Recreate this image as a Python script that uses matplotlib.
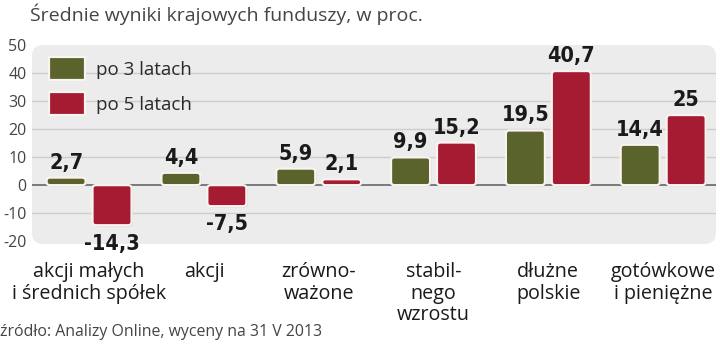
import matplotlib
matplotlib.use('Agg')
import matplotlib.pyplot as plt
import matplotlib.patheffects as pe
from matplotlib.patches import FancyBboxPatch
import numpy as np

categories = ['akcji małych\ni średnich spółek', 'akcji', 'zrówno-\nważone',
              'stabil-\nnego\nwzrostu', 'dłużne\npolskie', 'gotówkowe\ni pieniężne']
po_3_latach = [2.7, 4.4, 5.9, 9.9, 19.5, 14.4]
po_5_latach = [-14.3, -7.5, 2.1, 15.2, 40.7, 25.0]
labels_3 = ['2,7', '4,4', '5,9', '9,9', '19,5', '14,4']
labels_5 = ['-14,3', '-7,5', '2,1', '15,2', '40,7', '25']
yticks = [-20, -10, 0, 10, 20, 30, 40, 50]

GREEN = '#5b632d'
RED = '#a51c32'
PANEL = '#ececec'
NUM_FONT = ['Liberation Sans Narrow', 'DejaVu Sans']
TXT_FONT = ['Open Sans', 'DejaVu Sans']

fig = plt.figure(figsize=(7.2, 3.45), dpi=100)
ax = fig.add_axes([32 / 720, 1 - 244 / 345, 684 / 720, 199 / 345])
ax.set_xlim(-0.497, 5.46)
ax.set_ylim(-21, 50)
ax.patch.set_visible(False)
for s in ax.spines.values():
    s.set_visible(False)

# rounded grey panel behind the bars
w_px, h_px = 684, 199
panel = FancyBboxPatch((0, 0), 1, 1, transform=ax.transAxes,
                       boxstyle='round,pad=0,rounding_size=%f' % (11 / w_px),
                       mutation_aspect=w_px / h_px, fc=PANEL, ec='none',
                       zorder=0)
ax.add_patch(panel)

for t in [40, 30, 20, 10, -10]:
    ax.axhline(t, color='#cdcdcd', lw=1.0, zorder=1)
ax.axhline(0, color='#5a5a5a', lw=1.1, zorder=1)

x = np.arange(len(categories))
bw = 0.34
off = 0.2
b3 = ax.bar(x - off, po_3_latach, bw, color=GREEN, label='po 3 latach')
b5 = ax.bar(x + off, po_5_latach, bw, color=RED, label='po 5 latach')

# swap plain rectangles for rounded ones with a white rim
xpx = w_px / (ax.get_xlim()[1] - ax.get_xlim()[0])
ypx = h_px / (ax.get_ylim()[1] - ax.get_ylim()[0])
aspect = xpx / ypx
shadow = [pe.SimplePatchShadow(offset=(0.8, -0.8), shadow_rgbFace='#888888',
                               alpha=0.45), pe.Normal()]
for bars in (b3, b5):
    for r in bars:
        r.set_visible(False)
        x0, y0 = r.get_x(), min(r.get_y(), r.get_y() + r.get_height())
        w, h = r.get_width(), abs(r.get_height())
        rad = min(3.5 / xpx, w / 2, h / aspect / 2)
        fb = FancyBboxPatch((x0, y0), w, h,
                            boxstyle='round,pad=0,rounding_size=%f' % rad,
                            mutation_aspect=aspect, fc=r.get_facecolor(),
                            ec='#fbf3f0', lw=1.6, zorder=3, path_effects=shadow)
        ax.add_patch(fb)

for xs, vals, labs in ((x - off, po_3_latach, labels_3), (x + off, po_5_latach, labels_5)):
    for xi, v, lab in zip(xs, vals, labs):
        if v >= 0:
            ax.annotate(lab, (xi, v), xytext=(0, 6.5), textcoords='offset points',
                        ha='center', va='baseline', fontsize=15.5, fontweight='bold',
                        family=NUM_FONT, fontstretch='condensed',
                        color='#1a1a1a', zorder=5)
        else:
            ax.annotate(lab, (xi, v), xytext=(0, -6), textcoords='offset points',
                        ha='center', va='top', fontsize=15.5, fontweight='bold',
                        family=NUM_FONT, fontstretch='condensed',
                        color='#1a1a1a', zorder=5)

ax.set_yticks(yticks)
ax.set_yticklabels([str(t) for t in yticks], fontsize=11.5, color='#444444',
                   family=TXT_FONT)
ax.set_xticks(x)
ax.set_xticklabels(categories, fontsize=14.2, color='#1a1a1a', family=TXT_FONT,
                   linespacing=1.1)
ax.tick_params(axis='both', length=0)
ax.tick_params(axis='y', pad=4)
ax.tick_params(axis='x', pad=13)

leg = ax.legend(loc='upper left', bbox_to_anchor=(0.007, 1.0), frameon=False,
                prop={'family': TXT_FONT, 'size': 13.5}, handlelength=1.9,
                handleheight=1.5, handletextpad=0.6, labelspacing=0.65,
                borderaxespad=0.25)
for h in leg.legend_handles:
    h.set_visible(True)
    h.set_edgecolor('#fbf3f0')
    h.set_linewidth(1.6)
    h.set_path_effects(shadow)
for t in leg.get_texts():
    t.set_color('#2a2a2a')

fig.text(30 / 720, 1 - 21 / 345, 'Średnie wyniki krajowych funduszy, w proc.',
         fontsize=14, color='#444444', family=TXT_FONT,
         va='baseline', ha='left')
fig.text(0.0, 1 - 336 / 345, 'źródło: Analizy Online, wyceny na 31 V 2013',
         fontsize=11.4, color='#444444', family=TXT_FONT,
         va='baseline', ha='left')

fig.savefig('out.png', dpi=100)
